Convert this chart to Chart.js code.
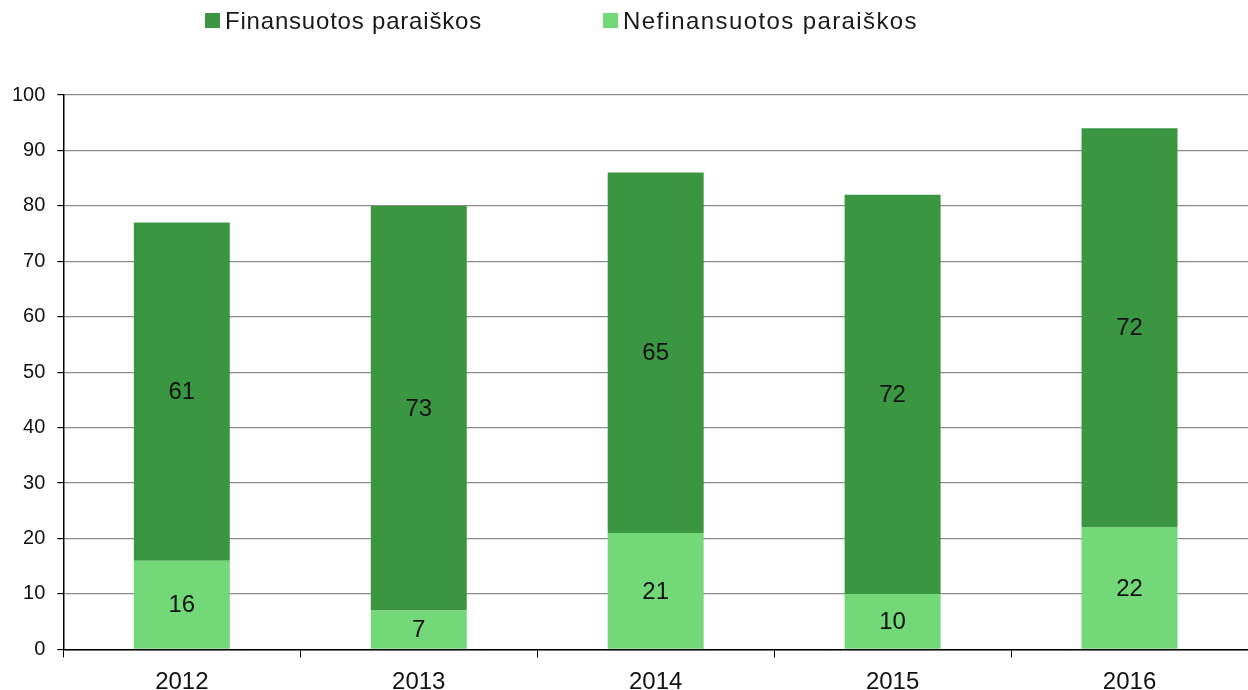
<!DOCTYPE html>
<html>
<head>
<meta charset="utf-8">
<script src="https://cdn.jsdelivr.net/npm/chart.js@4.4.0/dist/chart.umd.min.js"></script>
<style>
  html, body { margin: 0; padding: 0; background: #fff; }
  #wrap { position: relative; width: 1248px; height: 690px; }
  #legend { position: absolute; top: 7px; left: 0; width: 1248px; height: 30px;
            font-family: "Liberation Sans", Arial, sans-serif; font-size: 24px; color: #1a1a1a; }
  .item { position: absolute; top: 0; white-space: nowrap; }
  .box { display: inline-block; width: 15px; height: 15px; margin-right: 5px; vertical-align: 1px; }
</style>
</head>
<body>
<div id="wrap">
  <canvas id="barChart" width="1248" height="690"></canvas>
  <div id="legend"></div>
</div>
<script>
// Data
const years = ['2012', '2013', '2014', '2015', '2016'];
const funded = [61, 73, 65, 72, 72];
const unfunded = [16, 7, 21, 10, 22];
const yTicks = [0, 10, 20, 30, 40, 50, 60, 70, 80, 90, 100];

const darkGreen = '#3a9640';
const lightGreen = '#72d878';

// HTML legend, same order as the original
const legendItems = [
    { label: 'Finansuotos paraiškos', color: darkGreen, x: 205, spacing: 0.8 },
    { label: 'Nefinansuotos paraiškos', color: lightGreen, x: 603, spacing: 1.4 }
];
const legendEl = document.getElementById('legend');
legendItems.forEach(function (it) {
    const d = document.createElement('div');
    d.className = 'item';
    d.style.left = it.x + 'px';
    d.style.letterSpacing = it.spacing + 'px';
    d.innerHTML = '<span class="box" style="background:' + it.color + '"></span>' + it.label;
    legendEl.appendChild(d);
});

// value labels in the middle of each bar segment
const barLabels = {
    id: 'barLabels',
    afterDatasetsDraw(chart) {
        const ctx = chart.ctx;
        ctx.save();
        ctx.font = '24px "Liberation Sans", Arial, sans-serif';
        ctx.fillStyle = '#111';
        ctx.textAlign = 'center';
        ctx.textBaseline = 'middle';
        chart.data.datasets.forEach(function (ds, i) {
            chart.getDatasetMeta(i).data.forEach(function (bar, j) {
                const mid = (bar.y + bar.base) / 2;
                ctx.fillText(ds.data[j], bar.x, mid + 1);
            });
        });
        ctx.restore();
    }
};

const ctx = document.getElementById('barChart').getContext('2d');
const chart = new Chart(ctx, {
    type: 'bar',
    data: {
        labels: years,
        datasets: [{
            label: 'Nefinansuotos paraiškos',
            data: unfunded,
            backgroundColor: lightGreen
        }, {
            label: 'Finansuotos paraiškos',
            data: funded,
            backgroundColor: darkGreen
        }]
    },
    options: {
        responsive: false,
        animation: false,
        layout: { padding: { top: 95, right: 0, left: 0, bottom: -17 } },
        datasets: {
            bar: { categoryPercentage: 1, barPercentage: 0.405 }
        },
        plugins: {
            legend: { display: false },
            tooltip: { enabled: false }
        },
        scales: {
            x: {
                stacked: true,
                offset: true,
                grid: {
                    offset: true,
                    drawOnChartArea: false,
                    drawTicks: true,
                    tickLength: 8,
                    tickColor: '#000'
                },
                border: { color: '#000', width: 1.5 },
                ticks: {
                    color: '#111',
                    padding: 14,
                    font: { family: '"Liberation Sans", Arial, sans-serif', size: 24, lineHeight: 0.9 }
                }
            },
            y: {
                stacked: true,
                min: 0,
                max: 100,
                afterBuildTicks(axis) {
                    axis.ticks = yTicks.map(v => ({ value: v }));
                },
                grid: {
                    color: '#8a8a8a',
                    tickColor: '#000',
                    tickLength: 6,
                    lineWidth: 1.2
                },
                border: { color: '#000', width: 1.5 },
                ticks: {
                    color: '#111',
                    padding: 12,
                    font: { family: '"Liberation Sans", Arial, sans-serif', size: 20 }
                }
            }
        }
    },
    plugins: [barLabels]
});
</script>
</body>
</html>
